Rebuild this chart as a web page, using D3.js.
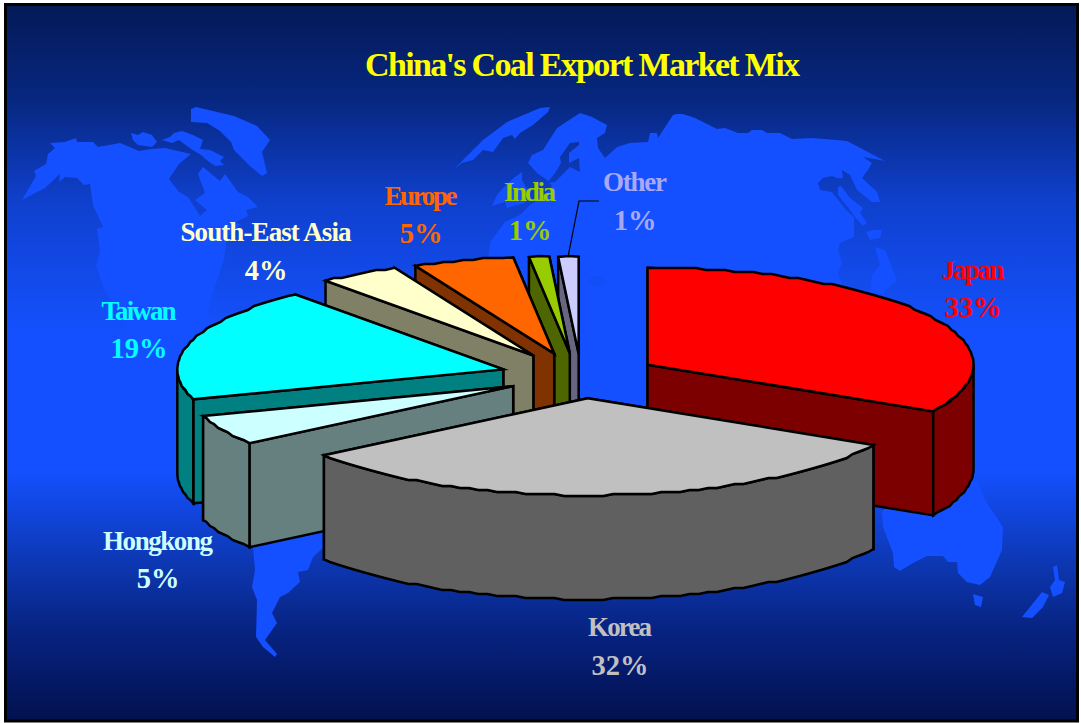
<!DOCTYPE html>
<html>
<head>
<meta charset="utf-8">
<title>China's Coal Export Market Mix</title>
<script src="https://cdnjs.cloudflare.com/ajax/libs/d3/7.8.5/d3.min.js"></script>
<style>
  html, body { margin: 0; padding: 0; background: #fff; }
  svg { display: block; }
  text { font-family: "Liberation Serif", serif; font-weight: bold; text-anchor: middle; }
</style>
</head>
<body>
<svg id="chart" width="1081" height="723"></svg>
<script>
// Market shares, in percent, clockwise from twelve o'clock
const markets = ["Japan", "Korea", "Hongkong", "Taiwan", "South-East Asia", "Europe", "India", "Other"];
const shares = [33, 32, 5, 19, 4, 5, 1, 1];
const titleText = "China's Coal Export Market Mix";

// Slice appearance
const lidColors = ["#ff0000", "#c0c0c0", "#ccffff", "#00ffff", "#ffffcc", "#ff6600", "#99cc00", "#ccccff"];
const wallColors = ["#7d0000", "#606060", "#668080", "#008080", "#808066", "#803300", "#4d6600", "#666680"];
const labelColors = ["#ff0000", "#c0c0c0", "#ccffff", "#00ffff", "#ffffcc", "#ff6600", "#99cc00", "#a8a8f4"];
const pullOut = [0.23, 0.23, 0.23, 0.245, 0.25, 0.24, 0.235, 0.23];
const sideShift = [0, 0, -3, -3, -6, -7, -6, -2];

// Label centres: name baseline, value baseline, fitted name width
const labelX = [973, 620, 158, 139, 266, 421, 530, 635];
const nameY = [279, 636, 550, 320, 241, 205, 201, 191];
const valueY = [317, 675, 588, 358, 280, 243, 240, 230];
const nameWidth = [63, 64, 110, 75, 171, 73, 52, 64];

// Pie projection
const centerX = 583, centerY = 376, radiusX = 326, radiusY = 97, depth = 104;
const rimGrid = 2;

// Land and sea outlines of the backdrop world map
const land = [
  // North America
  [[22,200],[36,176],[34,171],[46,164],[48,154],[55,148],[50,143],[65,142],[76,138],[77,142],[93,142],[98,147],[120,143],[139,151],[151,149],[165,148],[191,154],[179,164],[169,179],[179,192],[188,197],[200,216],[207,210],[195,200],[205,193],[198,174],[203,167],[220,181],[225,174],[238,192],[248,197],[258,207],[246,210],[248,216],[234,223],[241,224],[227,238],[224,259],[213,293],[207,314],[220,328],[215,380],[250,420],[200,400],[150,360],[114,307],[103,286],[96,266],[100,252],[97,229],[103,227],[93,205],[90,184],[84,185],[77,178],[65,177],[59,182],[60,174],[45,188]],
  // Arctic islands
  [[131,133],[138,135],[143,132],[152,135],[157,142],[152,147],[138,145],[133,140]],
  [[174,133],[182,131],[193,135],[203,140],[200,149],[210,150],[224,157],[220,161],[224,165],[215,166],[208,161],[201,155],[191,149],[179,140],[172,143],[162,140],[170,137]],
  // Greenland
  [[191,109],[196,107],[234,116],[257,126],[270,140],[262,152],[267,173],[262,176],[251,167],[234,150],[231,142],[220,131],[207,123],[191,122]],
  // Northern strip across the Atlantic
  [[453,170],[463,160],[483,140],[507,122],[540,108],[550,107],[548,112],[533,125],[520,133],[515,139],[512,135],[503,138],[493,152],[483,150],[473,160],[462,163]],
  // British Isles
  [[492,206],[497,195],[503,188],[515,177],[522,172],[522,180],[530,195],[525,203],[507,208],[505,202],[495,205]],
  // Eurasia
  [[528,163],[532,155],[543,150],[557,128],[580,113],[592,117],[607,125],[605,133],[597,138],[598,148],[605,158],[617,147],[630,143],[648,142],[650,133],[657,133],[658,138],[673,115],[677,114],[683,114],[695,118],[717,129],[725,128],[738,133],[748,133],[752,130],[762,130],[767,133],[780,133],[792,139],[813,138],[847,141],[885,161],[863,157],[872,163],[868,170],[862,178],[877,192],[880,202],[872,202],[857,190],[850,175],[842,170],[843,178],[837,178],[832,176],[823,178],[818,183],[820,190],[832,192],[846,210],[854,217],[854,237],[840,243],[838,250],[842,263],[838,273],[843,287],[855,320],[820,400],[640,400],[480,300],[488,262],[490,242],[505,222],[520,215],[530,205],[545,195],[552,186],[547,180],[537,173]],
  // Sakhalin
  [[838,187],[841,186],[850,198],[863,208],[860,213],[867,223],[863,226],[855,217],[847,206],[838,195]],
  // Japan
  [[866,232],[873,230],[882,230],[880,238],[870,240]],
  [[875,247],[885,250],[897,280],[882,294],[870,297],[872,275],[880,265]],
  // South America
  [[250,500],[253,548],[255,570],[252,587],[257,600],[256,637],[263,647],[275,657],[277,654],[265,640],[277,623],[272,613],[280,597],[288,593],[300,582],[298,572],[308,570],[313,557],[323,548],[330,500]],
  // Australia and its neighbours
  [[882,512],[883,527],[893,553],[894,567],[900,571],[913,563],[927,556],[943,556],[948,562],[957,562],[958,573],[967,582],[980,585],[990,577],[1002,550],[1003,527],[985,500],[978,480],[960,470],[900,490]],
  [[990,462],[977,455],[978,443],[985,450]],
  [[993,443],[1003,438],[1007,435],[1007,442],[1002,448],[993,448]],
  [[973,594],[983,597],[981,607],[975,605]],
  [[1053,567],[1057,565],[1059,580],[1065,582],[1062,593],[1053,597],[1050,587],[1055,580]],
  [[1022,617],[1042,592],[1049,595],[1043,607],[1032,618]]
];
const seas = [
  // Baltic
  [[579,142],[570,143],[560,157],[561,163],[555,173],[547,183],[555,182],[570,167],[580,172],[579,158],[569,163],[569,153],[579,145]],
  // Caspian
  [[592,276],[604,277],[607,283],[597,287],[588,282]]
];

const svg = d3.select("#chart");
const defs = svg.append("defs");

// Vertical sky gradient, shared by the frame and the seas
const gradient = defs.append("linearGradient")
  .attr("id", "sky").attr("gradientUnits", "userSpaceOnUse")
  .attr("x1", 0).attr("y1", 7).attr("x2", 0).attr("y2", 720);
[[7,"#041a58"],[100,"#072780"],[200,"#0f40cc"],[250,"#1146e0"],[300,"#134df2"],[340,"#1450ff"],[470,"#1450ff"],[560,"#0d38b5"],[620,"#082688"],[680,"#041865"],[720,"#03124f"]]
  .forEach(([pos, color]) => gradient.append("stop").attr("offset", (pos - 7) / 713).attr("stop-color", color));

svg.append("rect").attr("x", 5.5).attr("y", 4.5).attr("width", 1072).attr("height", 716.5)
  .attr("fill", "url(#sky)").attr("stroke", "#000").attr("stroke-width", 3);

const outline = d3.line();
const closed = pts => outline(pts) + "Z";

const map = svg.append("g");
map.selectAll("path.land").data(land).join("path").attr("class", "land")
  .attr("d", closed).attr("fill", "#1450ff");
map.selectAll("path.sea").data(seas).join("path").attr("class", "sea")
  .attr("d", closed).attr("fill", "url(#sky)").attr("fill-opacity", (d, i) => i ? 0.45 : 1);

svg.append("text").attr("x", 582.5).attr("y", 76)
  .attr("font-size", 34).attr("textLength", 435).attr("lengthAdjust", "spacing")
  .attr("fill", "#ffff00").text(titleText);

// Unit circle mapped to the tilted ellipse
const px = d3.scaleLinear().domain([-1, 1]).range([centerX - radiusX, centerX + radiusX]);
const py = d3.scaleLinear().domain([-1, 1]).range([centerY - radiusY, centerY + radiusY]);

const slices = d3.pie().sort(null).value(d => d)(shares).map((s, i) => {
  const mid = (s.startAngle + s.endAngle) / 2;
  return { ...s, index: i, mid, ox: pullOut[i] * Math.sin(mid) + sideShift[i] / radiusX, oy: -pullOut[i] * Math.cos(mid) };
});

const rim = (s, a) => [px(s.ox + Math.sin(a)), py(s.oy - Math.cos(a))];
const apex = s => [px(s.ox), py(s.oy)];
const drop = ([x, y]) => [x, y + depth];

// The rim is a polyline with heights snapped to a coarse grid, leaving its end points exact
const snap = v => Math.round(v / rimGrid) * rimGrid;
const rimPoints = (s, from, to) => {
  const steps = Math.max(2, Math.round((to - from) / 0.03));
  return d3.range(0, steps + 1).map(k => {
    const p = rim(s, from + (to - from) * k / steps);
    return k === 0 || k === steps ? p : [p[0], snap(p[1])];
  });
};

const pies = svg.append("g").attr("stroke", "#000").attr("stroke-width", 2.5)
  .attr("stroke-linejoin", "miter").attr("stroke-miterlimit", 5);

// Rear slices are painted first so nearer ones overlap them
slices.slice().sort((a, b) => Math.cos(b.mid) - Math.cos(a.mid)).forEach(s => {
  const g = pies.append("g");
  const wall = s => wallColors[s.index];
  const radial = [s.startAngle, s.endAngle]
    .sort((a, b) => Math.cos(b) - Math.cos(a))
    .map(a => [apex(s), rim(s, a), drop(rim(s, a)), drop(apex(s))]);
  radial.forEach(q => g.append("path").attr("d", closed(q)).attr("fill", wall(s)));

  const from = Math.max(s.startAngle, Math.PI / 2), to = Math.min(s.endAngle, 3 * Math.PI / 2);
  if (to > from) {
    const edge = rimPoints(s, from, to);
    g.append("path").attr("d", closed(edge.concat(edge.map(drop).reverse()))).attr("fill", wall(s));
  }
  g.append("path").attr("d", closed([apex(s)].concat(rimPoints(s, s.startAngle, s.endAngle))))
    .attr("fill", lidColors[s.index]);
});

// Leader from the smallest slice up to its label
svg.append("path").attr("d", outline([[599, 201], [579, 201], [568, 257]]))
  .attr("fill", "none").attr("stroke", "#000").attr("stroke-width", 1.2);

const labels = svg.append("g");
markets.forEach((name, i) => {
  labels.append("text").attr("x", labelX[i]).attr("y", nameY[i])
    .attr("font-size", 27).attr("textLength", nameWidth[i]).attr("lengthAdjust", "spacing")
    .attr("fill", labelColors[i]).text(name);
  labels.append("text").attr("x", labelX[i]).attr("y", valueY[i])
    .attr("font-size", 28.5).attr("fill", labelColors[i]).text(shares[i] + "%");
});
</script>
</body>
</html>
